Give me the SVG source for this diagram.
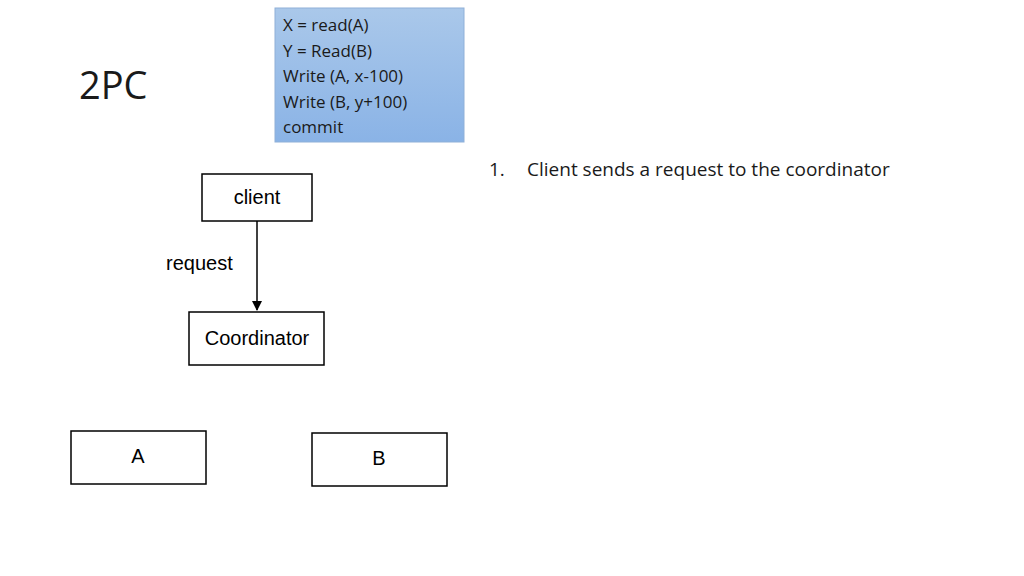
<svg xmlns="http://www.w3.org/2000/svg" width="1024" height="576" viewBox="0 0 1024 576">
<style>
.box{fill:#fff;stroke:#000;stroke-width:1.5}
.t{font-family:"Liberation Sans",Arial,sans-serif;font-size:20px;fill:#000}
.c{font-family:"Open Sans","Liberation Sans",sans-serif;fill:#1a1a1a}
</style>
<defs>
<linearGradient id="g" x1="0" y1="0" x2="0" y2="1"><stop offset="0" stop-color="#aac8ea"/><stop offset="1" stop-color="#8ab3e6"/></linearGradient>
<marker id="ah" markerWidth="10" markerHeight="10" refX="9" refY="5" orient="auto" markerUnits="userSpaceOnUse"><path d="M0,0 L10,5 L0,10 Z" fill="#000"/></marker>
</defs>
<rect width="1024" height="576" fill="#fff"/>
<text x="79" y="99" class="c" font-size="38">2PC</text>
<g id="code">
<rect x="275" y="8" width="189" height="134" fill="url(#g)" stroke="#8fb0d8"/>
<text class="c" font-size="17"><tspan x="283" y="31">X = read(A)</tspan><tspan x="283" y="57">Y = Read(B)</tspan><tspan x="283" y="82">Write (A, x-100)</tspan><tspan x="283" y="108">Write (B, y+100)</tspan><tspan x="283" y="133">commit</tspan></text>
</g>
<text class="c" font-size="19" x="489" y="176">1.</text>
<text class="c" font-size="19" x="527" y="176">Client sends a request to the coordinator</text>
<g id="client"><rect class="box" x="202" y="174" width="110" height="47"/><text class="t" x="257" y="204" text-anchor="middle">client</text></g>
<g id="coordinator"><rect class="box" x="189" y="312" width="135" height="53"/><text class="t" x="257" y="345" text-anchor="middle">Coordinator</text></g>
<g id="A"><rect class="box" x="71" y="431" width="135" height="53"/><text class="t" x="138" y="463" text-anchor="middle">A</text></g>
<g id="B"><rect class="box" x="312" y="433" width="135" height="53"/><text class="t" x="379" y="465" text-anchor="middle">B</text></g>
<g id="connectors">
<line x1="257" y1="221" x2="257" y2="310" stroke="#000" stroke-width="1.5" marker-end="url(#ah)"/>
<text class="t" x="166" y="270">request</text>
</g>
</svg>
